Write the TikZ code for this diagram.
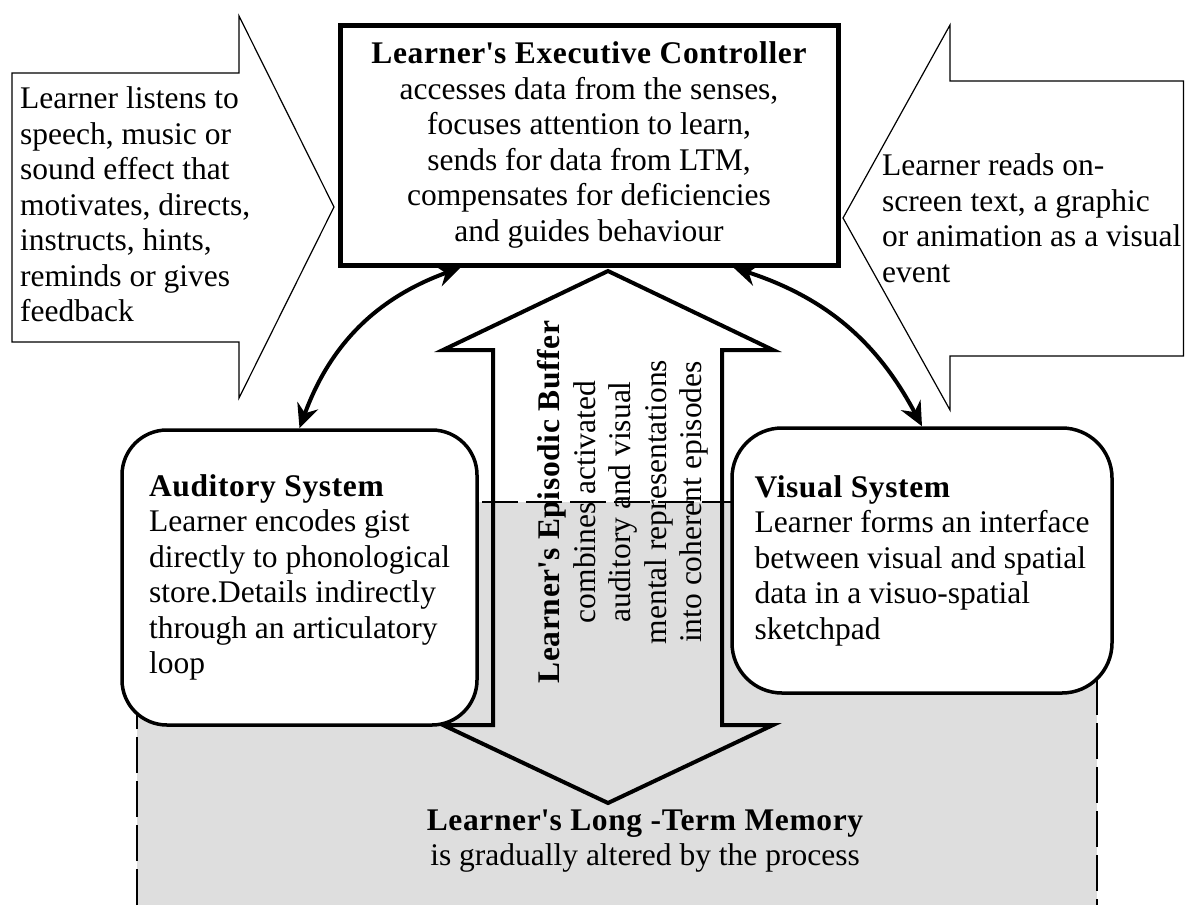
\documentclass[tikz,border=0pt]{standalone}
\usepackage{fontspec}
\setmainfont{Liberation Serif}
\newfontfamily\headfont{Liberation Serif}[LetterSpace=2]
\usetikzlibrary{arrows.meta,calc}
\definecolor{ltmfill}{RGB}{222,222,222}
\newcommand\boxtitle[1]{{\headfont\bfseries #1}}
\newcommand\apos{\textquotesingle}
\begin{document}
\begin{tikzpicture}[x=1pt,y=-1pt,
  every node/.style={inner sep=0pt, font=\fontsize{31.5}{35.5}\selectfont},
  ltmframe/.style={line width=1.5pt, dash pattern=on 36pt off 8pt},
  inputarrow/.style={draw, fill=white, line width=1.2pt, line join=miter},
  bufferarrow/.style={draw, line width=4pt, line join=miter},
  controller/.style={draw, fill=white, line width=5pt, align=center,
    minimum width=498pt, minimum height=240pt},
  subsystem/.style={draw, fill=white, line width=3.5pt, align=left},
  link/.style={line width=4pt,
    {Stealth[length=24pt,width=22pt,inset=8pt]}-{Stealth[length=24pt,width=22pt,inset=8pt]}}
]
\useasboundingbox (0,0) rectangle (1185,905);

% long-term memory region
\fill[ltmfill] (137,502) rectangle (1097,905);
\draw[ltmframe] (137,905) -- (137,502) -- (1097,502) -- (1097,905);

% two-headed arrow of the episodic buffer
\draw[bufferarrow] (608,271) -- (773,350) -- (722,350) -- (722,725) -- (773,725)
  -- (608,803) -- (443,725) -- (493,725) -- (493,350) -- (443,350) -- cycle;

% auditory input arrow (pointing right)
\draw[inputarrow] (12,73) -- (239,73) -- (239,16) -- (334,207) -- (239,398)
  -- (239,342) -- (12,342) -- cycle;
% visual input arrow (pointing left)
\draw[inputarrow] (843,218) -- (950,25) -- (950,81) -- (1183.5,81) -- (1183.5,356)
  -- (950,356) -- (950,410) -- cycle;

\node[controller] (ctrl) at (589,145)
  {\boxtitle{Learner\apos s Executive Controller}\\
   accesses data from the senses,\\
   focuses attention to learn,\\
   sends for data from LTM,\\
   compensates for deficiencies\\
   and guides behaviour};

\node[subsystem, rounded corners=45pt, minimum width=355pt, minimum height=295pt]
  (aud) at (299.5,577.5)
  {\boxtitle{Auditory System}\\
   Learner encodes gist\\
   directly to phonological\\
   store.Details indirectly\\
   through an articulatory\\
   loop};

\node[subsystem, rounded corners=50pt, minimum width=380pt, minimum height=265pt]
  (vis) at (922,560.5)
  {\boxtitle{Visual System}\\
   Learner forms an interface\\
   between visual and spatial\\
   data in a visuo-spatial\\
   sketchpad};

\node[anchor=north west, align=left] (listen) at (20,86.5)
  {Learner listens to\\speech, music or\\sound effect that\\motivates, directs,\\instructs, hints,\\reminds or gives\\feedback};

\node[anchor=north west, align=left] (reads) at (882,153.5)
  {Learner reads on-\\screen text, a graphic\\or animation as a visual\\event};

\node[rotate=90, align=center] (buffer) at (623,502)
  {\boxtitle{Learner\apos s Episodic Buffer}\\
   combines activated\\
   auditory and visual\\
   mental representations\\
   into coherent episodes};

\node[align=center] (ltm) at (645,841)
  {\boxtitle{Learner\apos s Long -Term Memory}\\
   is gradually altered by the process};

% exchanges between the controller and the two subsystems
\draw[link] (aud.north) to[bend left=25] ($(ctrl.south west)!0.245!(ctrl.south east)$);
\draw[link] (vis.north) to[bend right=22] ($(ctrl.south west)!0.787!(ctrl.south east)$);
\end{tikzpicture}
\end{document}
